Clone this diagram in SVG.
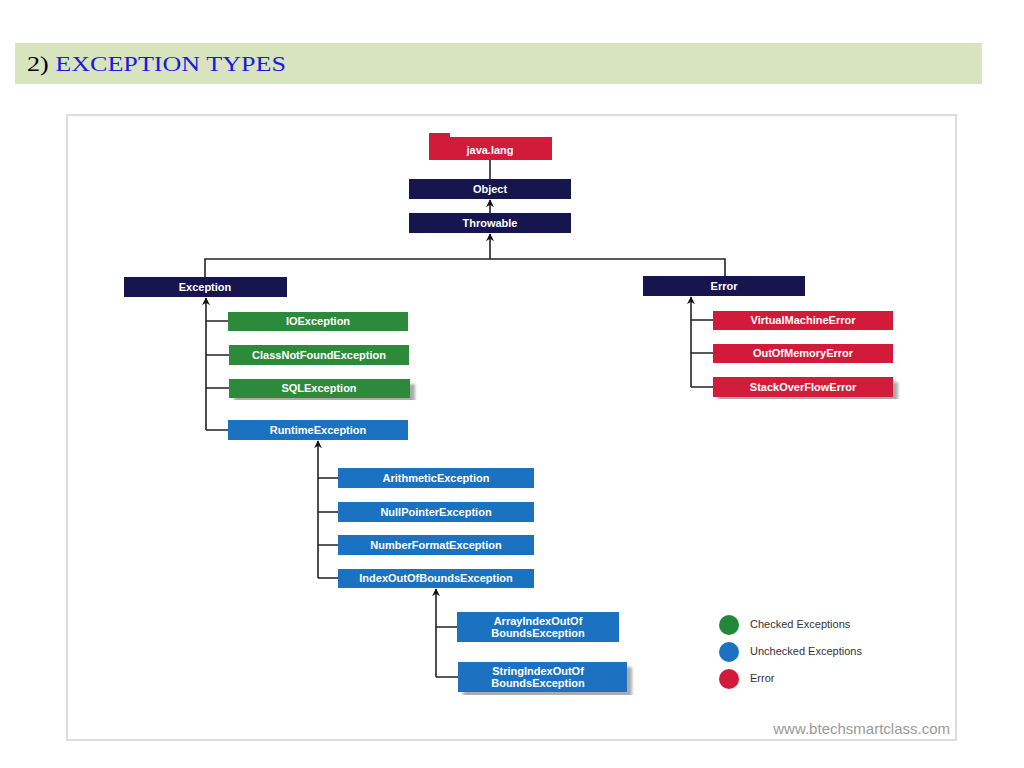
<svg xmlns="http://www.w3.org/2000/svg" width="1024" height="768" viewBox="0 0 1024 768">
<style>
.t{font-family:"Liberation Sans",Arial,sans-serif;font-weight:bold;fill:#fff;font-size:11px;text-anchor:middle}
.n{fill:#17154d}.g{fill:#2d8a3a}.b{fill:#1b72c0}.r{fill:#d21a3a}
.c{stroke:#222;stroke-width:1.6;fill:none}
.lg{font-family:"Liberation Sans",Arial,sans-serif;font-size:11px;fill:#333}
</style>
<defs>
<marker id="a" viewBox="0 0 10 10" refX="9" refY="5" markerWidth="8" markerHeight="8" markerUnits="userSpaceOnUse" orient="auto"><path d="M0,0 L10,5 L0,10 L3,5 Z" fill="#111"/></marker>
<filter id="sh"><feDropShadow dx="5" dy="5" stdDeviation="1.5" flood-color="#888" flood-opacity="0.7"/></filter>
</defs>
<rect width="1024" height="768" fill="#fff"/>
<rect x="15" y="43" width="967" height="41" fill="#d7e4bd"/>
<text x="27" y="71" font-family="Liberation Serif,serif" font-size="22" fill="#000" textLength="259" lengthAdjust="spacingAndGlyphs">2) <tspan fill="#1a1ae6">EXCEPTION TYPES</tspan></text>
<rect x="67" y="115" width="889" height="625" fill="#fff" stroke="#ddd" stroke-width="2"/>
<g id="connectors">
<path class="c" d="M490,160 V179"/>
<path class="c" d="M490,213 V200" marker-end="url(#a)"/>
<path class="c" d="M490,259 V234" marker-end="url(#a)"/>
<path class="c" d="M205,277 V259 H725 V276"/>
<path class="c" d="M206,430 V298" marker-end="url(#a)"/>
<path class="c" d="M206,321 H228 M206,355 H229 M206,388 H229 M206,430 H228"/>
<path class="c" d="M318,578 V441" marker-end="url(#a)"/>
<path class="c" d="M318,478 H338 M318,512 H338 M318,545 H338 M318,578 H338"/>
<path class="c" d="M436,677 V589" marker-end="url(#a)"/>
<path class="c" d="M436,627 H457 M436,677 H458"/>
<path class="c" d="M691,387 V297" marker-end="url(#a)"/>
<path class="c" d="M691,320 H713 M691,353 H713 M691,387 H713"/>
</g>
<g id="javalang"><path class="r" d="M429,160 V133 H450 V137 H552 V160 Z"/><text class="t" x="490" y="154" font-size="14">java.lang</text></g>
<g id="object"><rect class="n" x="409" y="179" width="162" height="20"/><text class="t" x="490" y="193">Object</text></g>
<g id="throwable"><rect class="n" x="409" y="213" width="162" height="20"/><text class="t" x="490" y="227">Throwable</text></g>
<g id="exception"><rect class="n" x="124" y="277" width="163" height="20"/><text class="t" x="205" y="291">Exception</text></g>
<g id="error"><rect class="n" x="643" y="276" width="162" height="20"/><text class="t" x="724" y="290">Error</text></g>
<g id="io"><rect class="g" x="228" y="312" width="180" height="19"/><text class="t" x="318" y="325">IOException</text></g>
<g id="cnf"><rect class="g" x="229" y="345" width="180" height="20"/><text class="t" x="319" y="359">ClassNotFoundException</text></g>
<g id="sql"><rect class="g" x="229" y="379" width="181" height="19" filter="url(#sh)"/><text class="t" x="319" y="392">SQLException</text></g>
<g id="runtime"><rect class="b" x="228" y="420" width="180" height="20"/><text class="t" x="318" y="434">RuntimeException</text></g>
<g id="arith"><rect class="b" x="338" y="468" width="196" height="20"/><text class="t" x="436" y="482">ArithmeticException</text></g>
<g id="npe"><rect class="b" x="338" y="502" width="196" height="20"/><text class="t" x="436" y="516">NullPointerException</text></g>
<g id="nfe"><rect class="b" x="338" y="535" width="196" height="20"/><text class="t" x="436" y="549">NumberFormatException</text></g>
<g id="ioobe"><rect class="b" x="338" y="569" width="196" height="19"/><text class="t" x="436" y="582">IndexOutOfBoundsException</text></g>
<g id="aioobe"><rect class="b" x="457" y="612" width="162" height="30"/><text class="t" x="538" y="625">ArrayIndexOutOf</text><text class="t" x="538" y="637">BoundsException</text></g>
<g id="sioobe"><rect class="b" x="458" y="662" width="169" height="30" filter="url(#sh)"/><text class="t" x="538" y="675">StringIndexOutOf</text><text class="t" x="538" y="687">BoundsException</text></g>
<g id="vme"><rect class="r" x="713" y="311" width="180" height="19"/><text class="t" x="803" y="324">VirtualMachineError</text></g>
<g id="oom"><rect class="r" x="713" y="344" width="180" height="19"/><text class="t" x="803" y="357">OutOfMemoryError</text></g>
<g id="soe"><rect class="r" x="713" y="377" width="180" height="20" filter="url(#sh)"/><text class="t" x="803" y="391">StackOverFlowError</text></g>
<g id="legend">
<circle cx="729" cy="625" r="10" fill="#23873a"/><text class="lg" x="750" y="628">Checked Exceptions</text>
<circle cx="729" cy="652" r="10" fill="#1b72c0"/><text class="lg" x="750" y="655">Unchecked Exceptions</text>
<circle cx="729" cy="679" r="10" fill="#d21a3a"/><text class="lg" x="750" y="682">Error</text>
</g>
<text x="950" y="734" text-anchor="end" font-family="Liberation Sans,Arial,sans-serif" font-size="15" fill="#999">www.btechsmartclass.com</text>
</svg>
